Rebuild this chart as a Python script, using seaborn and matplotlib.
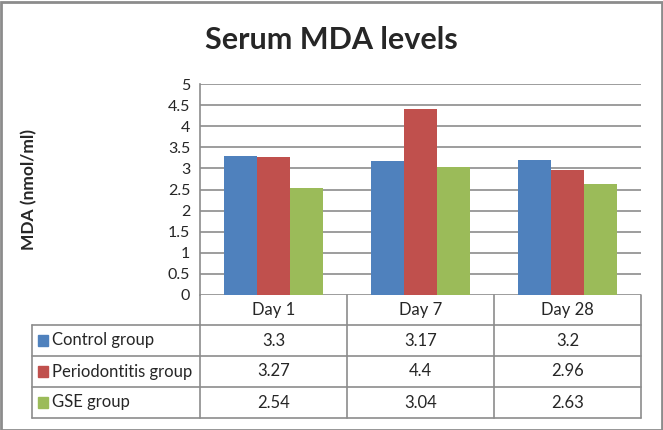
import pandas as pd
import matplotlib.pyplot as plt
import matplotlib.transforms as mtransforms
from matplotlib.patches import Rectangle
import seaborn as sns

# Data
days = ['Day 1', 'Day 7', 'Day 28']
groups = ['Control group', 'Periodontitis group', 'GSE group']
control = [3.3, 3.17, 3.2]
periodontitis = [3.27, 4.4, 2.96]
gse = [2.54, 3.04, 2.63]
yticks = [0, 0.5, 1, 1.5, 2, 2.5, 3, 3.5, 4, 4.5, 5]
colors = ['#4F81BD', '#C0504D', '#9BBB59']

series = [control, periodontitis, gse]
df = pd.DataFrame([
    {'day': d, 'group': g, 'value': v}
    for g, vals in zip(groups, series)
    for d, v in zip(days, vals)
])

sns.set_style('white')
plt.rcParams['font.family'] = ['Lato', 'DejaVu Sans']

W, H = 663, 430
fig = plt.figure(figsize=(W / 100, H / 100), dpi=100)

# plot area in pixels
left, right, top, bottom = 200, 641, 84, 295
ax = fig.add_axes([left / W, 1 - bottom / H, (right - left) / W, (bottom - top) / H])

sns.barplot(data=df, x='day', y='value', hue='group', palette=colors,
            width=0.67, saturation=1, ax=ax, legend=False, linewidth=0)

ax.set_ylim(0, 5)
ax.set_xlim(-0.5, 2.5)
ax.set_yticks(yticks)
ax.set_yticklabels([f'{t:g}' for t in yticks], fontsize=11.5)
ax.set_xticks([])
ax.set_xlabel('')
ax.set_ylabel('MDA (nmol/ml)', fontsize=12.5, fontweight='bold', labelpad=0)
ax.yaxis.set_label_coords((37 - left) / (right - left), 0.5)
ax.grid(axis='y', color='#8c8c8c', linewidth=1.2)
ax.set_axisbelow(True)
ax.tick_params(axis='y', length=4, color='#8c8c8c', pad=3)
for s in ['top', 'right', 'bottom']:
    ax.spines[s].set_visible(False)
ax.spines['left'].set_color('#8c8c8c')
ax.spines['left'].set_linewidth(1.2)

fig.text(331 / W, 1 - 40 / H, 'Serum MDA levels', fontsize=22, fontweight='bold',
         ha='center', va='center')

# data table under the chart (x in data coords, y in pixels)
trans = mtransforms.blended_transform_factory(ax.transData, fig.transFigure)
def fy(py):
    return 1 - py / H

row_lines = [295, 325, 356, 387, 418]
table_left_px = 32
x_tab_left = ax.transData.inverted().transform((table_left_px, 0))[0]
lc = '#8c8c8c'
lw = 1.2
fs = 12

# header row
ax.plot([-0.5, 2.5], [fy(row_lines[1])] * 2, transform=trans, color=lc, lw=lw, clip_on=False)
for b in [-0.5, 0.5, 1.5, 2.5]:
    ax.plot([b, b], [fy(row_lines[0]), fy(row_lines[-1])], transform=trans,
            color=lc, lw=lw, clip_on=False)
for i, d in enumerate(days):
    ax.text(i, fy((row_lines[0] + row_lines[1]) / 2), d, transform=trans,
            ha='center', va='center', fontsize=fs)

# body rows
for r in range(2, 5):
    ax.plot([x_tab_left, 2.5], [fy(row_lines[r])] * 2, transform=trans,
            color=lc, lw=lw, clip_on=False)
ax.plot([x_tab_left, x_tab_left], [fy(row_lines[1]), fy(row_lines[-1])], transform=trans,
        color=lc, lw=lw, clip_on=False)
ax.plot([x_tab_left, -0.5], [fy(row_lines[1])] * 2, transform=trans,
        color=lc, lw=lw, clip_on=False)

for r, (g, vals, c) in enumerate(zip(groups, series, colors)):
    yc = (row_lines[r + 1] + row_lines[r + 2]) / 2
    fig.add_artist(Rectangle(((table_left_px + 6) / W, fy(yc + 5)), 10 / W, 11 / H,
                             transform=fig.transFigure, color=c))
    fig.text((table_left_px + 20) / W, fy(yc), g, ha='left', va='center', fontsize=fs)
    for i, v in enumerate(vals):
        ax.text(i, fy(yc), f'{v:g}', transform=trans, ha='center', va='center', fontsize=fs)

# outer border
fig.add_artist(Rectangle((0.5 / W, 0.5 / H), (W - 2) / W, (H - 2) / H, transform=fig.transFigure,
                         fill=False, edgecolor='#8c8c8c', linewidth=2))

fig.savefig('out.png', dpi=100)
